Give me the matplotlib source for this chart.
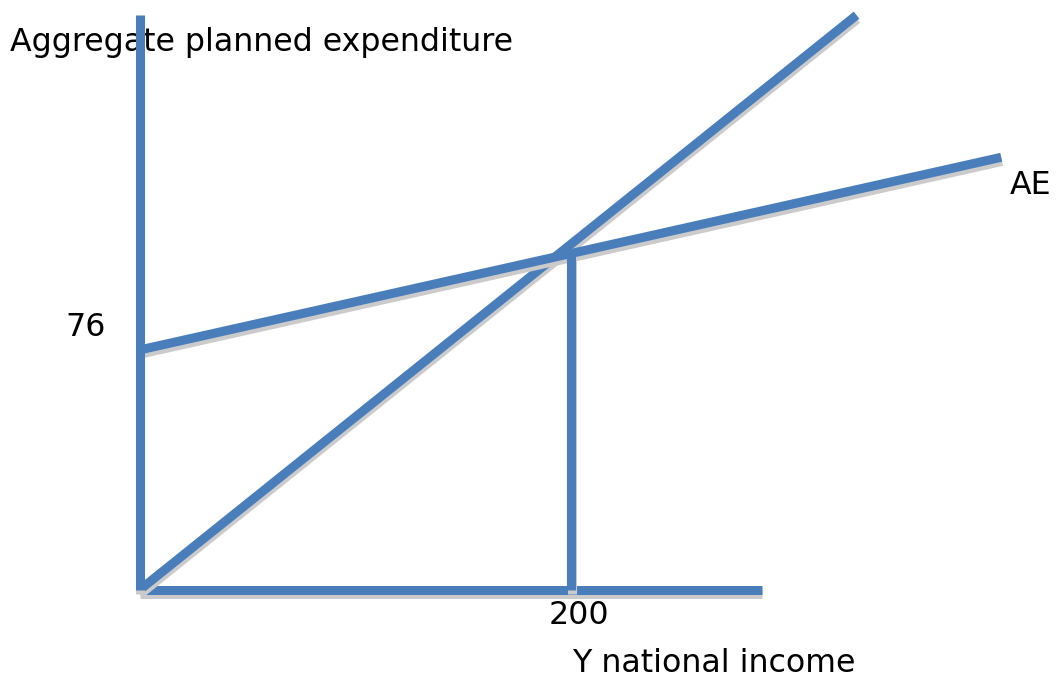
import matplotlib
matplotlib.use("Agg")
import matplotlib.pyplot as plt
import matplotlib.patheffects as pe

# Keynesian cross: aggregate planned expenditure vs national income
income_axis = [0, 288]          # horizontal axis extent (Y)
expenditure_axis = [0, 182]     # vertical axis extent
diag_income = [0, 332]          # 45-degree line (expenditure = income)
diag_expenditure = [0, 182]
ae_income = [0, 399]            # AE schedule
ae_expenditure = [76, 137]
equilibrium_income = 200
equilibrium_expenditure = 76 + (137 - 76) / 399 * 200

BLUE = "#4a7ebb"
SHADOW = "#cbcbcb"
LW = 6.5

fig = plt.figure(figsize=(10.57, 6.81), dpi=100)
ax = fig.add_axes([0, 0, 1, 1])
ax.set_xlim(-64.6, 424.8)
ax.set_ylim(-28.8, 186.8)
ax.axis("off")

effects = [pe.SimpleLineShadow(offset=(0.5, -3), shadow_color=SHADOW, alpha=1.0),
           pe.Normal()]

def seg(xs, ys):
    ax.plot(xs, ys, color=BLUE, lw=LW, solid_capstyle="butt",
            path_effects=effects, zorder=3)

seg(income_axis, [0, 0])
seg(diag_income, diag_expenditure)
seg(ae_income, ae_expenditure)
seg([equilibrium_income, equilibrium_income], [0, equilibrium_expenditure])
seg([0, 0], expenditure_axis)

fs = 22.8
W, H = 1057, 681
def label(px, py, s):
    ax.text(px / W, 1 - py / H, s, transform=ax.transAxes, fontsize=fs,
            ha="left", va="center", color="black", zorder=1)

label(10, 42, "Aggregate planned expenditure")
label(1010, 185, "AE")
label(65, 328, "76")
label(549, 615, "200")
label(572, 663, "Y national income")

fig.savefig("out.png", dpi=100)
